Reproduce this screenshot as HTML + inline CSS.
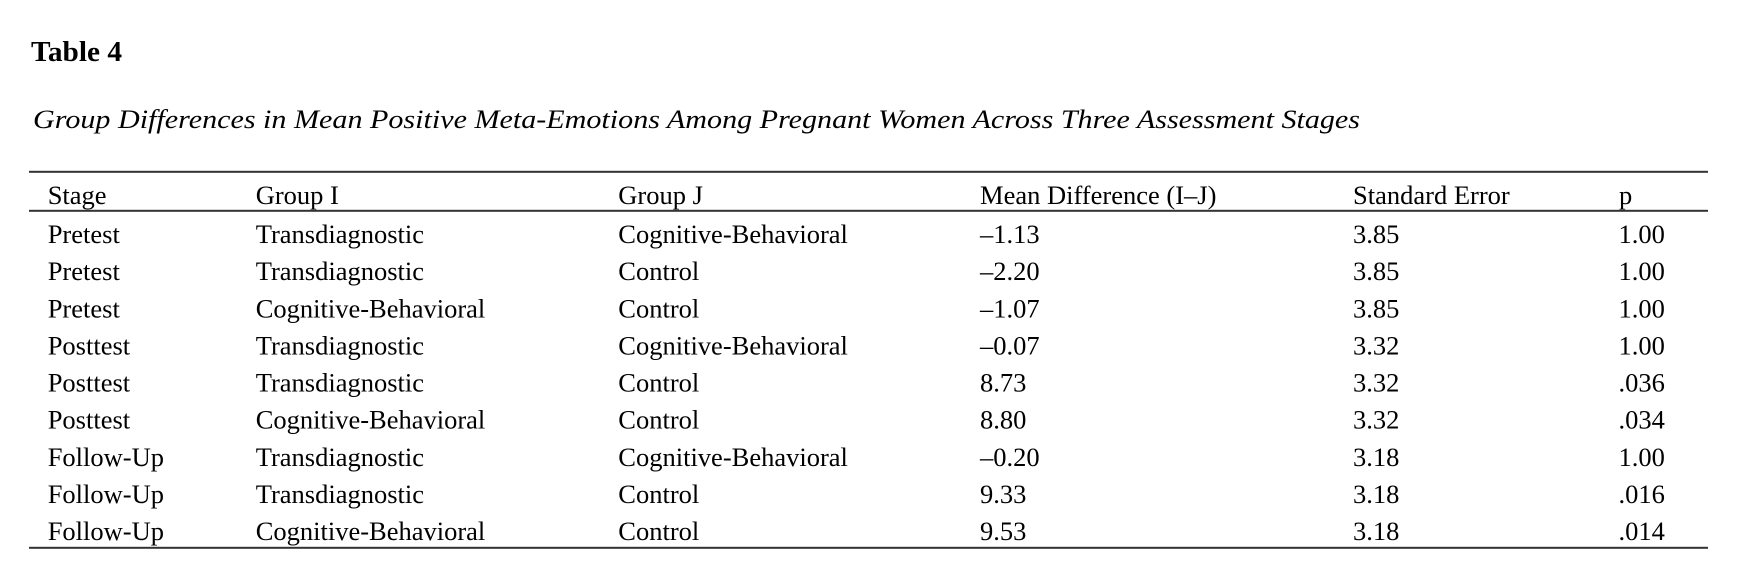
<!DOCTYPE html>
<html>
<head>
<meta charset="utf-8">
<style>
  html, body { margin: 0; padding: 0; background: #ffffff; }
  body { width: 1750px; height: 568px; overflow: hidden; }
  svg { display: block; }
  text { font-family: "Liberation Serif", "Times New Roman", serif; fill: #000; }
  .c { font-size: 26.5px; }
</style>
</head>
<body>
<svg width="1750" height="568" viewBox="0 0 1750 568" xmlns="http://www.w3.org/2000/svg">
  <text x="31" y="61" style="font-size:28.5px;font-weight:bold" textLength="91" lengthAdjust="spacingAndGlyphs">Table 4</text>
  <text x="33" y="128" style="font-size:26.5px;font-style:italic" textLength="1327" lengthAdjust="spacingAndGlyphs">Group Differences in Mean Positive Meta-Emotions Among Pregnant Women Across Three Assessment Stages</text>

  <rect x="29" y="170.8" width="1679" height="2" fill="#333"/>
  <rect x="29" y="209.8" width="1679" height="2" fill="#333"/>
  <rect x="29" y="546.8" width="1679" height="2" fill="#333"/>

  <g class="c">
    <text x="47.7" y="204" class="c">Stage</text>
    <text x="255.7" y="204" class="c">Group I</text>
    <text x="618.3" y="204" class="c">Group J</text>
    <text x="980" y="204" class="c">Mean Difference (I–J)</text>
    <text x="1353" y="204" class="c">Standard Error</text>
    <text x="1619" y="204" class="c">p</text>
  </g>

  <g>
    <text x="47.7" y="243" class="c">Pretest</text>
    <text x="255.7" y="243" class="c">Transdiagnostic</text>
    <text x="618.3" y="243" class="c">Cognitive-Behavioral</text>
    <text x="980" y="243" class="c">–1.13</text>
    <text x="1353" y="243" class="c">3.85</text>
    <text x="1618.5" y="243" class="c">1.00</text>

    <text x="47.7" y="280.1" class="c">Pretest</text>
    <text x="255.7" y="280.1" class="c">Transdiagnostic</text>
    <text x="618.3" y="280.1" class="c">Control</text>
    <text x="980" y="280.1" class="c">–2.20</text>
    <text x="1353" y="280.1" class="c">3.85</text>
    <text x="1618.5" y="280.1" class="c">1.00</text>

    <text x="47.7" y="317.3" class="c">Pretest</text>
    <text x="255.7" y="317.3" class="c">Cognitive-Behavioral</text>
    <text x="618.3" y="317.3" class="c">Control</text>
    <text x="980" y="317.3" class="c">–1.07</text>
    <text x="1353" y="317.3" class="c">3.85</text>
    <text x="1618.5" y="317.3" class="c">1.00</text>

    <text x="47.7" y="354.4" class="c">Posttest</text>
    <text x="255.7" y="354.4" class="c">Transdiagnostic</text>
    <text x="618.3" y="354.4" class="c">Cognitive-Behavioral</text>
    <text x="980" y="354.4" class="c">–0.07</text>
    <text x="1353" y="354.4" class="c">3.32</text>
    <text x="1618.5" y="354.4" class="c">1.00</text>

    <text x="47.7" y="391.5" class="c">Posttest</text>
    <text x="255.7" y="391.5" class="c">Transdiagnostic</text>
    <text x="618.3" y="391.5" class="c">Control</text>
    <text x="980" y="391.5" class="c">8.73</text>
    <text x="1353" y="391.5" class="c">3.32</text>
    <text x="1618.5" y="391.5" class="c">.036</text>

    <text x="47.7" y="428.6" class="c">Posttest</text>
    <text x="255.7" y="428.6" class="c">Cognitive-Behavioral</text>
    <text x="618.3" y="428.6" class="c">Control</text>
    <text x="980" y="428.6" class="c">8.80</text>
    <text x="1353" y="428.6" class="c">3.32</text>
    <text x="1618.5" y="428.6" class="c">.034</text>

    <text x="47.7" y="465.8" class="c">Follow-Up</text>
    <text x="255.7" y="465.8" class="c">Transdiagnostic</text>
    <text x="618.3" y="465.8" class="c">Cognitive-Behavioral</text>
    <text x="980" y="465.8" class="c">–0.20</text>
    <text x="1353" y="465.8" class="c">3.18</text>
    <text x="1618.5" y="465.8" class="c">1.00</text>

    <text x="47.7" y="502.9" class="c">Follow-Up</text>
    <text x="255.7" y="502.9" class="c">Transdiagnostic</text>
    <text x="618.3" y="502.9" class="c">Control</text>
    <text x="980" y="502.9" class="c">9.33</text>
    <text x="1353" y="502.9" class="c">3.18</text>
    <text x="1618.5" y="502.9" class="c">.016</text>

    <text x="47.7" y="540" class="c">Follow-Up</text>
    <text x="255.7" y="540" class="c">Cognitive-Behavioral</text>
    <text x="618.3" y="540" class="c">Control</text>
    <text x="980" y="540" class="c">9.53</text>
    <text x="1353" y="540" class="c">3.18</text>
    <text x="1618.5" y="540" class="c">.014</text>
  </g>
</svg>
</body>
</html>
